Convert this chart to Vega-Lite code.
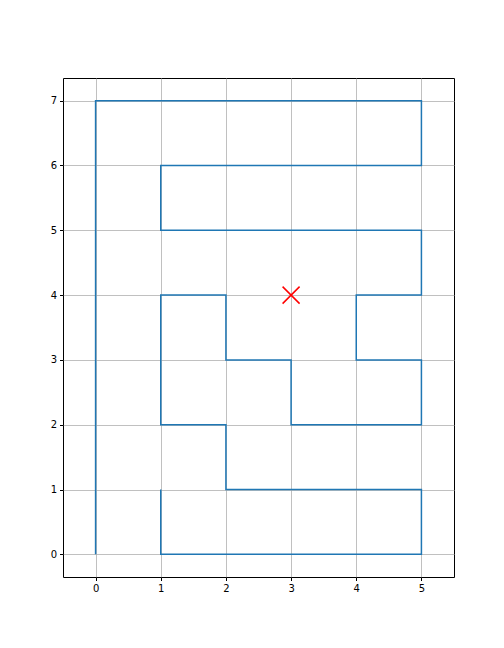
{
  "$schema": "https://vega.github.io/schema/vega-lite/v6.json",
  "autosize": "none",
  "width": 391,
  "height": 499,
  "padding": {"left": 63, "top": 78, "right": 50, "bottom": 71},
  "background": "white",
  "config": {
    "view": {"stroke": "black", "strokeWidth": 1},
    "axis": {
      "labelFont": "DejaVu Sans",
      "labelFontSize": 10,
      "labelColor": "black",
      "tickColor": "black",
      "tickSize": 3.5,
      "domain": false,
      "grid": true,
      "gridColor": "#b0b0b0",
      "gridWidth": 0.8,
      "labelPadding": 3,
      "title": null
    }
  },
  "layer": [
    {
      "data": {"values": [
        {"i": 0, "x": 0, "y": 0},
        {"i": 1, "x": 0, "y": 7},
        {"i": 2, "x": 5, "y": 7},
        {"i": 3, "x": 5, "y": 6},
        {"i": 4, "x": 1, "y": 6},
        {"i": 5, "x": 1, "y": 5},
        {"i": 6, "x": 5, "y": 5},
        {"i": 7, "x": 5, "y": 4},
        {"i": 8, "x": 4, "y": 4},
        {"i": 9, "x": 4, "y": 3},
        {"i": 10, "x": 5, "y": 3},
        {"i": 11, "x": 5, "y": 2},
        {"i": 12, "x": 3, "y": 2},
        {"i": 13, "x": 3, "y": 3},
        {"i": 14, "x": 2, "y": 3},
        {"i": 15, "x": 2, "y": 4},
        {"i": 16, "x": 1, "y": 4},
        {"i": 17, "x": 1, "y": 2},
        {"i": 18, "x": 2, "y": 2},
        {"i": 19, "x": 2, "y": 1},
        {"i": 20, "x": 5, "y": 1},
        {"i": 21, "x": 5, "y": 0},
        {"i": 22, "x": 1, "y": 0},
        {"i": 23, "x": 1, "y": 1}
      ]},
      "mark": {"type": "line", "color": "#1f77b4", "strokeWidth": 1.5, "strokeJoin": "miter", "strokeCap": "butt", "clip": true},
      "encoding": {
        "x": {"field": "x", "type": "quantitative", "scale": {"domain": [-0.5, 5.5], "nice": false, "zero": false}, "axis": {"values": [0, 1, 2, 3, 4, 5], "format": "d"}},
        "y": {"field": "y", "type": "quantitative", "scale": {"domain": [-0.35, 7.35], "nice": false, "zero": false}, "axis": {"values": [0, 1, 2, 3, 4, 5, 6, 7], "format": "d"}},
        "order": {"field": "i", "type": "quantitative"}
      }
    },
    {
      "data": {"values": [{"x": 3, "y": 4}]},
      "mark": {"type": "point", "shape": "M-1,-1L1,1M-1,1L1,-1", "size": 289, "stroke": "red", "strokeWidth": 1.5, "filled": false, "opacity": 1},
      "encoding": {
        "x": {"field": "x", "type": "quantitative"},
        "y": {"field": "y", "type": "quantitative"}
      }
    }
  ]
}
